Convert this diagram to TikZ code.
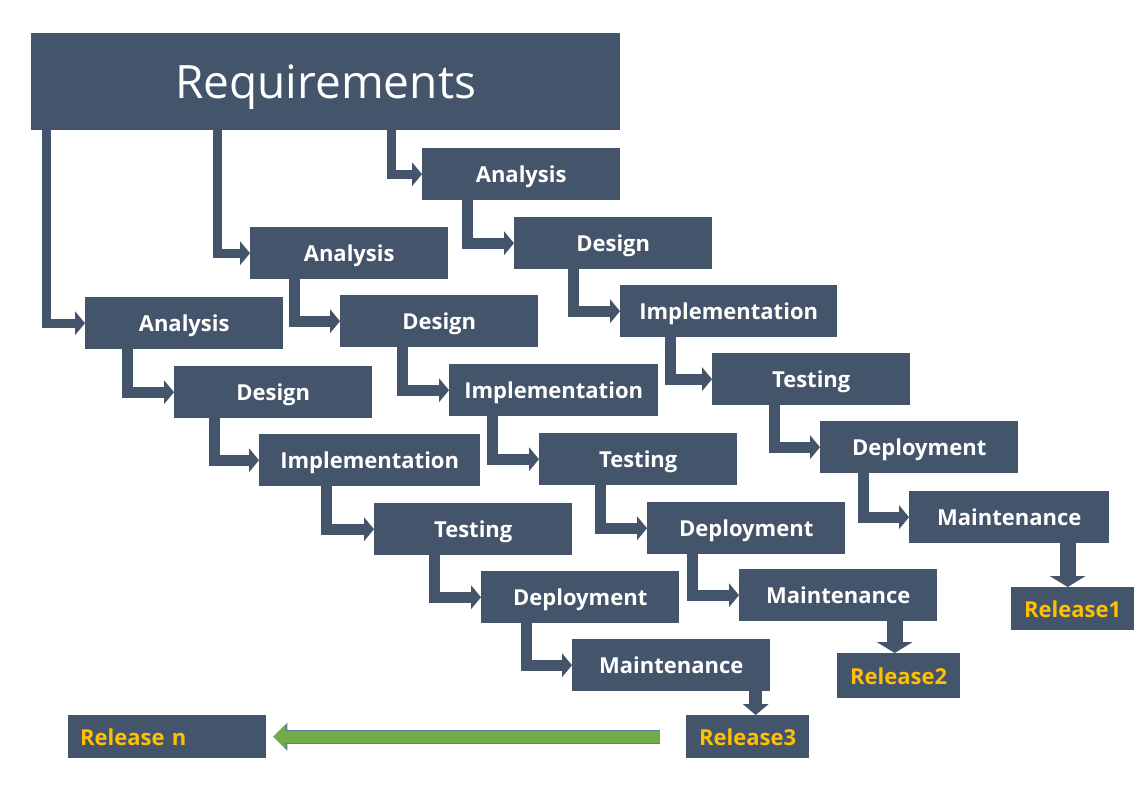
\documentclass[tikz,border=0pt]{standalone}
\usepackage{fontspec}
\setmainfont{Open Sans}
\usetikzlibrary{arrows.meta,calc}

\definecolor{slate}{HTML}{44546A}
\definecolor{gold}{HTML}{FFC000}
\definecolor{leaf}{HTML}{70AD47}
\definecolor{leafedge}{HTML}{5B7FA0}

\tikzset{
    stage/.style={rectangle, fill=slate, text=white, anchor=north west, inner sep=0pt,
        text depth=0pt, minimum width=198pt, minimum height=52pt,
        font=\bfseries\fontsize{22}{25}\selectfont},
    release/.style={stage, text=gold, minimum width=123pt, minimum height=43pt},
    flow/.style={draw=slate, line width=11pt, -{Triangle[length=10pt,width=24pt,line width=0pt]}},
    reqline/.style={flow, line width=9pt},
    ship/.style={draw=slate, line width=16pt, -{Triangle[length=11pt,width=36pt,line width=0pt]}},
    back/.style={draw=leaf, line width=12pt, -{Triangle[length=12pt,width=24pt,line width=0pt]},
        preaction={draw=leafedge, line width=14pt, -{Triangle[length=14pt,width=28pt,line width=0pt]}}}
}

\begin{document}
\begin{tikzpicture}[x=1pt, y=-1pt]
            %\draw[lightgray, step=50] (0, 0) grid (1144, 804);
            \useasboundingbox (0, 0) rectangle (1144, 804);
            \node[stage, minimum width=589pt, minimum height=97pt,
                font=\fontsize{46}{52}\selectfont] (req) at (31, 33) {Requirements};
            % first release
            \node[stage] (a1) at (422, 148) {Analysis};
            \node[stage] (d1) at (514, 217) {Design};
            \node[stage, minimum width=217pt] (i1) at (620, 285) {Implementation};
            \node[stage] (t1) at (712, 353) {Testing};
            \node[stage] (p1) at (820, 421) {Deployment};
            \node[stage, minimum width=200pt] (m1) at (909, 491) {Maintenance};
            \node[release] (r1) at (1011, 587) {Release1};
            % second release
            \node[stage] (a2) at (250, 227) {Analysis};
            \node[stage] (d2) at (340, 295) {Design};
            \node[stage, minimum width=209pt] (i2) at (449, 364) {Implementation};
            \node[stage] (t2) at (539, 433) {Testing};
            \node[stage] (p2) at (647, 502) {Deployment};
            \node[stage] (m2) at (739, 569) {Maintenance};
            \node[release, minimum height=45pt] (r2) at (837, 653) {Release2};
            % third release
            \node[stage] (a3) at (85, 297) {Analysis};
            \node[stage] (d3) at (174, 366) {Design};
            \node[stage, minimum width=221pt] (i3) at (259, 434) {Implementation};
            \node[stage] (t3) at (374, 503) {Testing};
            \node[stage] (p3) at (481, 571) {Deployment};
            \node[stage] (m3) at (572, 639) {Maintenance};
            \node[release] (r3) at (686, 715) {Release3};
            \node[release, minimum width=198pt, text width=174pt, align=left] (rn) at (68, 715) {Release n};

            \draw[reqline] ($(req.south west)+(15, 0)$) |- (a3);
            \draw[reqline] ($(req.south west)+(186, 0)$) |- (a2);
            \draw[reqline] ($(req.south west)+(360, 0)$) |- (a1);

            \draw[flow] ($(a1.south west)+(45, 0)$) |- (d1);
            \draw[flow] ($(d1.south west)+(59, 0)$) |- (i1);
            \draw[flow] ($(i1.south west)+(50, 0)$) |- (t1);
            \draw[flow] ($(t1.south west)+(62, 0)$) |- (p1);
            \draw[flow] ($(p1.south west)+(43, 0)$) |- (m1);

            \draw[flow] ($(a2.south west)+(44, 0)$) |- (d2);
            \draw[flow] ($(d2.south west)+(62, 0)$) |- (i2);
            \draw[flow] ($(i2.south west)+(43, 0)$) |- (t2);
            \draw[flow] ($(t2.south west)+(61, 0)$) |- (p2);
            \draw[flow] ($(p2.south west)+(45, 0)$) |- (m2);

            \draw[flow] ($(a3.south west)+(42, 0)$) |- (d3);
            \draw[flow] ($(d3.south west)+(40, 0)$) |- (i3);
            \draw[flow] ($(i3.south west)+(67, 0)$) |- (t3);
            \draw[flow] ($(t3.south west)+(60, 0)$) |- (p3);
            \draw[flow] ($(p3.south west)+(45, 0)$) |- (m3);

            \draw[ship] ($(r1.north |- m1.south)+(-5, 0)$) -- ($(r1.north)+(-5, 0)$);
            \draw[ship] ($(r2.north |- m2.south)+(-4, 0)$) -- ($(r2.north)+(-4, 0)$);
            \draw[ship, line width=13pt, -{Triangle[length=11pt,width=26pt,line width=0pt]}]
                ($(r3.north |- m3.south)+(8, 0)$) -- ($(r3.north)+(8, 0)$);

            \draw[back] ($(r3.west)+(-26, 0)$) -- ($(rn.east)+(7, 0)$);
        \end{tikzpicture}
\end{document}
